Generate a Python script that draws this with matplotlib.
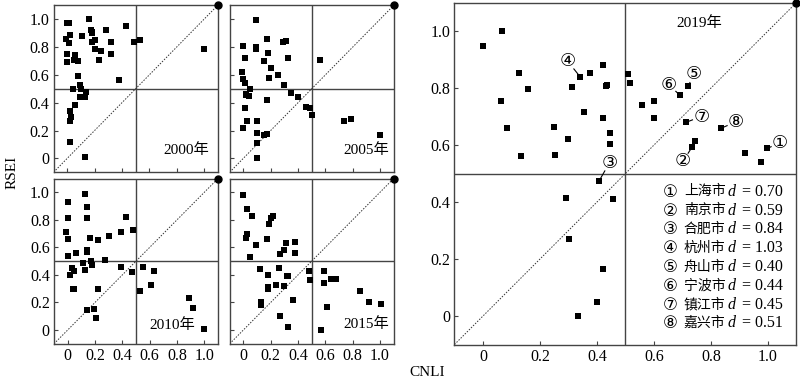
import matplotlib
matplotlib.use("Agg")
import matplotlib.pyplot as plt

plt.rcParams["font.family"] = ["Liberation Serif", "Noto Sans CJK SC", "DejaVu Sans"]
plt.rcParams["font.size"] = 11

# CNLI (x) and RSEI (y) for each year, 41 cities
x2000 = [0.0, 0.01, -0.01, 0.02, 0.01, 0.0, 0.0, 0.05, 0.06, 0.08, 0.08, 0.09, 0.10, 0.04,
         0.14, 0.09, 0.13, 0.06, 0.02, 0.03, 0.02, 0.02, 0.13, 0.11, 0.16, 0.17, 0.18, 0.18,
         0.18, 0.20, 0.20, 0.23, 0.25, 0.28, 0.32, 0.32, 0.38, 0.43, 0.49, 0.53, 1.0]
y2000 = [0.97, 0.975, 0.86, 0.89, 0.83, 0.75, 0.69, 0.71, 0.74, 0.70, 0.59, 0.53, 0.50, 0.50,
         0.48, 0.44, 0.44, 0.38, 0.34, 0.30, 0.27, 0.12, 0.01, 0.88, 1.0, 0.92, 0.91, 0.90,
         0.84, 0.85, 0.79, 0.71, 0.77, 0.92, 0.84, 0.75, 0.56, 0.955, 0.835, 0.85, 0.79]

x2005 = [0.09, 0.17, 0.29, 0.31, 0.0, 0.09, 0.09, 0.18, 0.01, 0.15, 0.33, 0.56, 0.20, 0.25,
         0.19, -0.01, 0.0, 0.01, 0.05, 0.30, 0.02, 0.02, 0.04, 0.17, 0.35, 0.40, 0.01, 0.46,
         0.49, 0.50, 0.03, 0.10, 0.0, 0.10, 0.15, 0.17, 0.10, 0.10, 0.74, 0.79, 1.0]
y2005 = [0.995, 0.86, 0.84, 0.845, 0.81, 0.80, 0.79, 0.755, 0.72, 0.70, 0.72, 0.71, 0.65, 0.60,
         0.58, 0.62, 0.57, 0.54, 0.50, 0.53, 0.465, 0.455, 0.45, 0.42, 0.47, 0.44, 0.36, 0.37,
         0.36, 0.315, 0.27, 0.27, 0.22, 0.18, 0.17, 0.175, 0.11, 0.0, 0.27, 0.28, 0.17]

x2010 = [0.0, 0.13, 0.14, 0.0, 0.14, 0.43, -0.01, 0.0, 0.16, 0.22, 0.30, 0.39, 0.48, 0.06,
         0.14, 0.14, 0.0, 0.11, 0.17, 0.18, 0.27, 0.03, 0.05, 0.13, 0.02, 0.39, 0.47, 0.55,
         0.63, 0.61, 0.53, 0.04, 0.05, 0.22, 0.14, 0.19, 0.21, 0.89, 0.92, 1.0]
y2010 = [0.93, 0.99, 0.89, 0.815, 0.815, 0.82, 0.71, 0.66, 0.67, 0.65, 0.68, 0.71, 0.725, 0.56,
         0.58, 0.565, 0.54, 0.49, 0.50, 0.475, 0.51, 0.45, 0.43, 0.435, 0.40, 0.455, 0.42, 0.455,
         0.425, 0.33, 0.28, 0.30, 0.30, 0.30, 0.145, 0.155, 0.09, 0.23, 0.16, 0.005]

x2015 = [0.0, 0.03, 0.06, 0.22, 0.20, 0.19, 0.03, 0.02, 0.09, 0.17, 0.31, 0.30, 0.38, 0.38,
         0.27, 0.05, 0.12, 0.26, 0.18, 0.32, 0.33, 0.48, 0.49, 0.59, 0.64, 0.68, 0.59, 0.18,
         0.18, 0.24, 0.30, 0.36, 0.13, 0.13, 0.85, 0.92, 1.01, 0.61, 0.27, 0.33, 0.57]
y2015 = [0.98, 0.88, 0.83, 0.83, 0.81, 0.77, 0.70, 0.67, 0.62, 0.66, 0.63, 0.58, 0.64, 0.56,
         0.55, 0.53, 0.44, 0.45, 0.40, 0.39, 0.39, 0.43, 0.36, 0.43, 0.37, 0.37, 0.34, 0.31,
         0.30, 0.33, 0.32, 0.22, 0.20, 0.18, 0.28, 0.20, 0.19, 0.17, 0.10, 0.02, 0.0]

x2019 = [0.0, 0.067, 0.127, 0.063, 0.159, 0.085, 0.135, 0.25, 0.253, 0.298, 0.312, 0.342,
         0.377, 0.356, 0.421, 0.433, 0.436, 0.421, 0.444, 0.444, 0.408, 0.508, 0.517, 0.557,
         0.60, 0.599, 0.69, 0.72, 0.711, 0.745, 0.733, 0.836, 0.919, 0.975, 0.998,
         0.29, 0.455, 0.303, 0.42, 0.399, 0.332]
y2019 = [0.946, 1.0, 0.854, 0.753, 0.795, 0.658, 0.561, 0.662, 0.566, 0.62, 0.802, 0.838,
         0.852, 0.716, 0.88, 0.808, 0.812, 0.696, 0.642, 0.604, 0.475, 0.848, 0.816, 0.741,
         0.754, 0.693, 0.775, 0.806, 0.679, 0.615, 0.592, 0.659, 0.573, 0.539, 0.588,
         0.415, 0.409, 0.271, 0.166, 0.048, 0.0]

# labelled cities in 2019
marks = ["①", "②", "③", "④", "⑤", "⑥", "⑦", "⑧"]
cities = ["上海市", "南京市", "合肥市", "杭州市", "舟山市", "宁波市", "镇江市", "嘉兴市"]
dvals = ["0.70", "0.59", "0.84", "1.03", "0.40", "0.44", "0.45", "0.51"]
mark_pts = [(0.998, 0.588), (0.733, 0.592), (0.408, 0.475), (0.342, 0.838),
            (0.72, 0.806), (0.69, 0.775), (0.711, 0.679), (0.836, 0.659)]
mark_txt = [(1.041, 0.608), (0.702, 0.543), (0.444, 0.538), (0.298, 0.893),
            (0.740, 0.849), (0.653, 0.812), (0.766, 0.700), (0.887, 0.681)]

ticks = [0, 0.2, 0.4, 0.6, 0.8, 1.0]
ticklabels = ["0", "0.2", "0.4", "0.6", "0.8", "1.0"]
edge = "#444444"

fig = plt.figure(figsize=(8, 3.79), dpi=100)


def base(ax, xs, ys, ms):
    ax.set_xlim(-0.1, 1.1)
    ax.set_ylim(-0.1, 1.1)
    ax.axvline(0.5, color=edge, lw=1.0)
    ax.axhline(0.5, color=edge, lw=1.0)
    ax.plot([-0.1, 1.1], [-0.1, 1.1], color="#333333", lw=0.7, ls=(0, (1.5, 1.5)))
    ax.scatter(xs, ys, marker="s", s=ms, color="black", linewidths=0, zorder=3)
    ax.plot([1.1], [1.1], "o", color="black", ms=5, clip_on=False, zorder=5)
    ax.set_xticks(ticks)
    ax.set_yticks(ticks)
    ax.tick_params(direction="in", length=3, color=edge, labelsize=11.5, pad=3)
    for s in ax.spines.values():
        s.set_color(edge)
        s.set_linewidth(1.0)


small = [
    ([0.067, 0.5456, 0.205, 0.4401], x2000, y2000, "2000年", (1.04, 0.06), True, False),
    ([0.2871, 0.5456, 0.205, 0.4401], x2005, y2005, "2005年", (1.066, 0.06), False, False),
    ([0.0675, 0.0929, 0.205, 0.4361], x2010, y2010, "2010年", (0.93, 0.036), True, True),
    ([0.2871, 0.0929, 0.205, 0.4361], x2015, y2015, "2015年", (1.066, 0.044), False, True),
]
for rect, xs, ys, year, pos, showy, showx in small:
    ax = fig.add_axes(rect)
    base(ax, xs, ys, 14)
    ax.set_yticklabels(ticklabels if showy else [])
    ax.set_xticklabels(ticklabels if showx else [])
    ax.text(pos[0], pos[1], year, ha="right", va="center", fontsize=11)

ax = fig.add_axes([0.5681, 0.091, 0.4275, 0.9024])
base(ax, x2019, y2019, 19)
ax.set_xticklabels(ticklabels)
ax.set_yticklabels(ticklabels)
ax.text(0.758, 1.027, "2019年", ha="center", va="center", fontsize=11)

for m, p, t in zip(marks, mark_pts, mark_txt):
    ax.plot([p[0], t[0]], [p[1], t[1]], color="black", lw=0.8, zorder=2)
    ax.text(t[0], t[1], m, ha="center", va="center", fontsize=13,
            family=["DejaVu Sans"],
            bbox=dict(boxstyle="circle,pad=0", fc="white", ec="none"), zorder=4)

y0 = 0.436
for i in range(len(marks)):
    yy = y0 - i * 0.066
    ax.text(0.658, yy, marks[i], ha="center", va="center", fontsize=12, family=["DejaVu Sans"])
    ax.text(0.705, yy, cities[i], ha="left", va="center", fontsize=10)
    ax.text(0.857, yy, "d", ha="left", va="center", fontsize=11.5, style="italic")
    ax.text(1.053, yy, "= " + dvals[i], ha="right", va="center", fontsize=11.5)

fig.text(12 / 800, 1 - 172 / 379, "RSEI", rotation=90, ha="center", va="center", fontsize=11)
fig.text(427 / 800, 1 - 372 / 379, "CNLI", ha="center", va="center", fontsize=11)

fig.savefig("out.png", dpi=100)
